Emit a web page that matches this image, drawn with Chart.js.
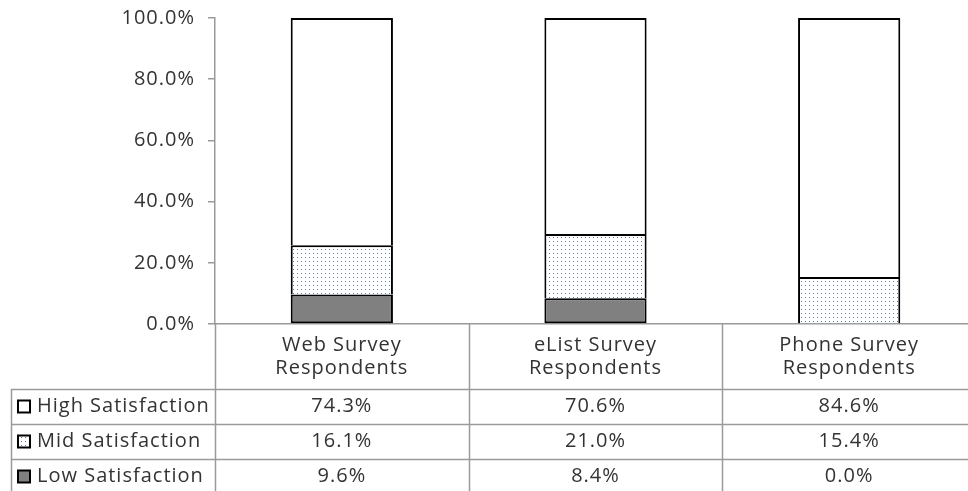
<!DOCTYPE html>
<html>
<head>
<meta charset="utf-8">
<script src="https://cdn.jsdelivr.net/npm/chart.js@4/dist/chart.umd.min.js"></script>
<style>
  html, body { margin: 0; padding: 0; background: #fff; overflow: hidden; }
  #wrap { width: 976px; height: 491px; }
</style>
</head>
<body>
<div id="wrap"><canvas id="chart" width="976" height="491"></canvas></div>
<script>
const categories = [["Web Survey", "Respondents"], ["eList Survey", "Respondents"], ["Phone Survey", "Respondents"]];
const seriesNames = ["Low Satisfaction", "Mid Satisfaction", "High Satisfaction"];
const lowValues = [9.6, 8.4, 0.0];
const midValues = [16.1, 21.0, 15.4];
const highValues = [74.3, 70.6, 84.6];
const yTicks = [0, 20, 40, 60, 80, 100];

const FONT = "'Open Sans', sans-serif";
const FSIZE = 20;
const TEXT = "#333";
const LINE = "#9a9a9a";

// dotted fill used for the mid series
function dotPattern() {
  const c = document.createElement("canvas");
  c.width = 4; c.height = 4;
  const g = c.getContext("2d");
  g.fillStyle = "#fff";
  g.fillRect(0, 0, 4, 4);
  g.fillStyle = "#5b79ad";
  g.fillRect(1, 1, 1, 1);
  return c.getContext("2d").createPattern(c, "repeat");
}
const dots = dotPattern();
const fills = ["#808080", dots, "#ffffff"];
const values = [lowValues, midValues, highValues];

// wide Calibri-like text in the original: add a little tracking
const spacingPlugin = {
  id: "spacing",
  beforeDraw(chart) { chart.ctx.letterSpacing = "1px"; }
};

// draws category labels + data table under the plot
const tablePlugin = {
  id: "dataTable",
  afterDraw(chart) {
    const ctx = chart.ctx;
    const x = chart.scales.x;
    const area = chart.chartArea;
    const n = categories.length;
    const bottom = chart.height;
    const headerBottom = area.bottom + 65;
    const rowH = 35;
    const left = 11;
    const right = chart.width;
    ctx.save();
    ctx.letterSpacing = "1px";
    ctx.strokeStyle = LINE;
    ctx.lineWidth = 1.5;
    // vertical separators
    for (let i = 0; i < n; i++) {
      const bx = Math.round(x.getPixelForValue(i - 0.5)) + 0.5;
      ctx.beginPath();
      ctx.moveTo(bx, area.bottom);
      ctx.lineTo(bx, bottom);
      ctx.stroke();
    }
    ctx.beginPath();
    ctx.moveTo(left + 0.5, headerBottom);
    ctx.lineTo(left + 0.5, bottom);
    ctx.stroke();
    // horizontal rows
    for (let r = 0; r < 3; r++) {
      const y = Math.round(headerBottom + r * rowH) + 0.5;
      ctx.beginPath();
      ctx.moveTo(left, y);
      ctx.lineTo(right, y);
      ctx.stroke();
    }
    ctx.fillStyle = TEXT;
    ctx.font = FSIZE + "px " + FONT;
    ctx.textAlign = "center";
    ctx.textBaseline = "middle";
    categories.forEach((lines, i) => {
      const cx = x.getPixelForValue(i);
      lines.forEach((t, k) => ctx.fillText(t, cx, area.bottom + 21 + k * 23));
    });
    // rows: High, Mid, Low
    const order = [2, 1, 0];
    order.forEach((s, r) => {
      const cy = headerBottom + r * rowH + rowH / 2;
      // legend key
      ctx.fillStyle = fills[s];
      ctx.fillRect(18, cy - 6, 12, 12);
      ctx.strokeStyle = "#000";
      ctx.lineWidth = 2;
      ctx.strokeRect(18, cy - 6, 12, 12);
      ctx.fillStyle = TEXT;
      ctx.textAlign = "left";
      ctx.fillText(seriesNames[s], 37, cy);
      ctx.textAlign = "center";
      values[s].forEach((v, i) => {
        ctx.fillText(v.toFixed(1) + "%", x.getPixelForValue(i), cy);
      });
    });
    ctx.restore();
  }
};

const datasets = seriesNames.map((name, s) => ({
  label: name,
  data: values[s],
  backgroundColor: fills[s],
  borderColor: "#000",
  borderWidth: s === 0 ? 2 : { top: 2, left: 2, right: 2, bottom: 0 },
  borderSkipped: false,
  barPercentage: 1,
  categoryPercentage: 0.403
}));

new Chart(document.getElementById("chart"), {
  type: "bar",
  data: { labels: categories.map(c => c.join(" ")), datasets: datasets },
  plugins: [spacingPlugin, tablePlugin],
  options: {
    responsive: false,
    animation: false,
    layout: { padding: { top: 18, right: 0, left: 0, bottom: 0 } },
    plugins: { legend: { display: false }, tooltip: { enabled: false } },
    scales: {
      x: {
        stacked: true,
        ticks: { display: false },
        grid: { display: false },
        border: { color: LINE, width: 1.5 },
        afterFit: (scale) => { scale.height = 167; }
      },
      y: {
        stacked: true,
        min: 0,
        max: 100,
        afterBuildTicks: (scale) => { scale.ticks = yTicks.map(v => ({ value: v })); },
        ticks: {
          color: TEXT,
          font: { family: FONT, size: FSIZE },
          padding: 13,
          callback: (v) => v.toFixed(1) + "%"
        },
        grid: { drawOnChartArea: false, drawTicks: true, tickLength: 7, color: LINE, lineWidth: 1.5 },
        border: { color: LINE, width: 1.5 },
        afterFit: (scale) => {
          scale.width = 215;
          scale.paddingTop = 0;
          scale.paddingBottom = 0;
        }
      }
    }
  }
});
</script>
</body>
</html>
